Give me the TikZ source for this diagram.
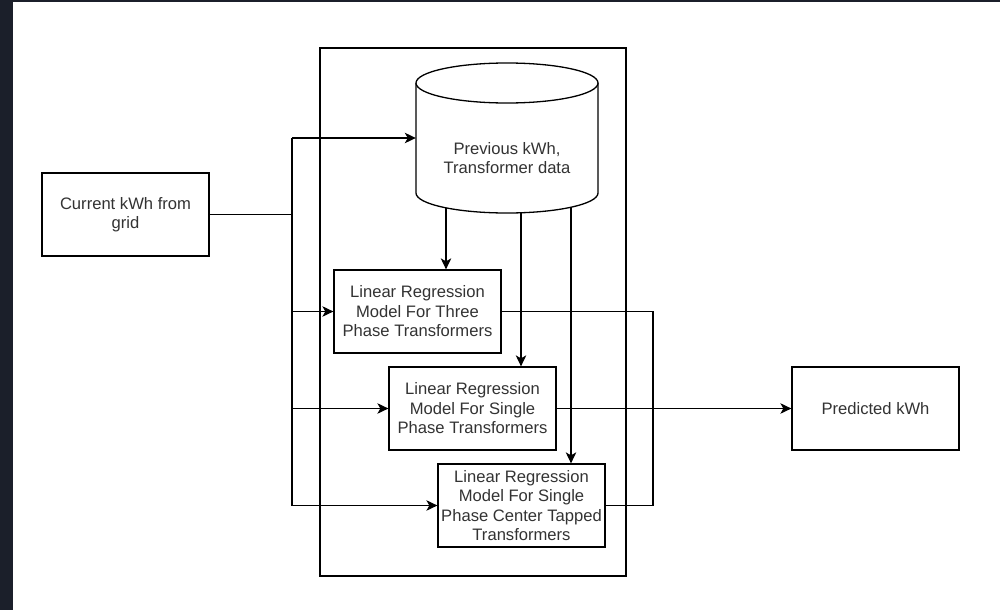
\documentclass[tikz,border=0pt]{standalone}
\usepackage{fontspec}
\setmainfont{Liberation Sans}
\usetikzlibrary{arrows.meta}
\definecolor{darkbg}{HTML}{1B1F2A}
\definecolor{txt}{HTML}{333333}
\tikzset{
  box/.style={draw=black, line width=1.3pt, fill=white, minimum width=167pt, minimum height=83pt, inner sep=0pt, align=center, text=txt, font=\fontsize{16.6}{19.5}\selectfont},
  conn/.style={draw=black, line width=1.3pt},
  arr/.style={conn, -{Stealth[length=11pt,width=10.5pt,inset=3pt]}},
}
\begin{document}
\begin{tikzpicture}[x=1pt,y=-1pt]
\useasboundingbox (0,0) rectangle (1000,610);
\fill[white] (0,0) rectangle (1000,610);
\fill[darkbg] (0,0) rectangle (13,610);
\fill[darkbg] (0,0) rectangle (1000,2);
% container
\node[draw=black, line width=1.3pt, minimum width=306pt, minimum height=528pt, inner sep=0pt] (frame) at (473,312) {};
% cylinder
\draw[line width=1.3pt, fill=white] (416,83) -- (416,193) arc[start angle=180, end angle=360, x radius=91pt, y radius=20pt] -- (598,83);
\draw[line width=1.3pt, fill=white] (507,83) ellipse [x radius=91pt, y radius=20pt];
\node[minimum width=182pt, minimum height=150pt, inner sep=0pt] (db) at (507,138) {};
\node[align=center, text=txt, font=\fontsize{16.6}{19.5}\selectfont, inner sep=0pt] (dbtext) at (507,158) {Previous kWh,\\Transformer data};
% boxes
\node[box] (cur) at (125.5,214.5) {Current kWh from\\grid};
\node[box] (m1) at (417.5,311.5) {Linear Regression\\Model For Three\\Phase Transformers};
\node[box] (m2) at (472.5,408.5) {Linear Regression\\Model For Single\\Phase Transformers};
\node[box] (m3) at (521.5,505.5) {Linear Regression\\Model For Single\\Phase Center Tapped\\Transformers};
\node[box] (pred) at (875.5,408.5) {Predicted kWh};
% coordinates
\coordinate (busx) at (292,0);
\coordinate (outx) at (653,0);
\coordinate (d1) at (446,208);
\coordinate (d2) at (521,213);
\coordinate (d3) at (571,207);
% input bus
\draw[conn] (cur.east) -- (cur.east -| busx);
\draw[conn] (busx |- db.west) -- (busx |- m3.west);
\draw[arr] (busx |- db.west) -- (db.west);
\draw[arr] (busx |- m1.west) -- (m1.west);
\draw[arr] (busx |- m2.west) -- (m2.west);
\draw[arr] (busx |- m3.west) -- (m3.west);
% database to models
\draw[arr] (d1) -- (d1 |- m1.north);
\draw[arr] (d2) -- (d2 |- m2.north);
\draw[arr] (d3) -- (d3 |- m3.north);
% outputs
\draw[conn] (m1.east) -- (m1.east -| outx) -- (outx |- m3.east) -- (m3.east);
\draw[arr] (m2.east) -- (pred.west);
\end{tikzpicture}
\end{document}
